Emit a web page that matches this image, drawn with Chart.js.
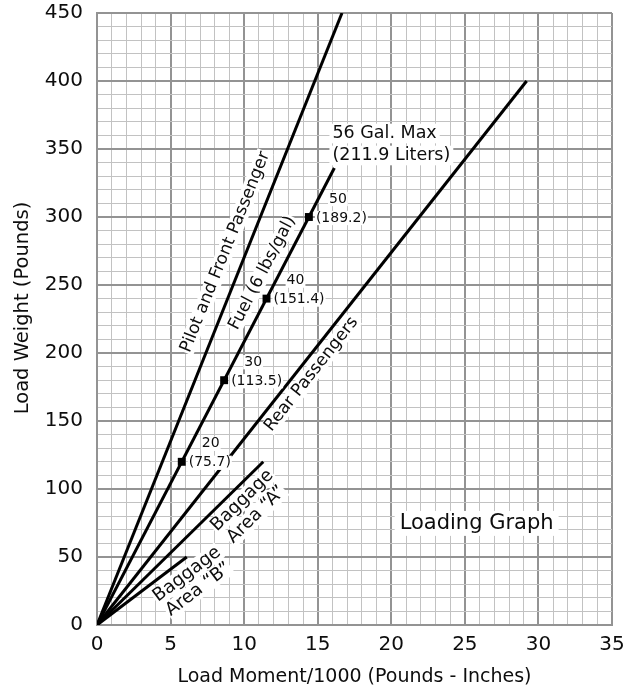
<!DOCTYPE html>
<html><head><meta charset="utf-8">
<script src="https://cdn.jsdelivr.net/npm/chart.js@4.4.1/dist/chart.umd.min.js"></script>
<style>html,body{margin:0;padding:0;background:#fff}#wrap{width:640px;height:689px;position:relative}</style>
</head><body><div id="wrap"><canvas id="c"></canvas></div>
<script>
// ---- Data ----
const seriesNames = ['Pilot and Front Passenger', 'Fuel (6 lbs/gal)', 'Rear Passengers', 'Baggage Area “A”', 'Baggage Area “B”'];
const pilotMoment = [0, 16.65];
const pilotWeight = [0, 450];
const fuelMoment = [0, 16.13];
const fuelWeight = [0, 336];
const rearMoment = [0, 29.2];
const rearWeight = [0, 400];
const baggageAMoment = [0, 11.3];
const baggageAWeight = [0, 120];
const baggageBMoment = [0, 6.1];
const baggageBWeight = [0, 50];
const fuelGallons = ['20', '30', '40', '50'];
const fuelLiters = ['(75.7)', '(113.5)', '(151.4)', '(189.2)'];
const fuelMarkWeight = [120, 180, 240, 300];
const fuelMarkMoment = [5.76, 8.64, 11.52, 14.4];
const fuelMaxNote = ['56 Gal. Max', '(211.9 Liters)'];
const chartTitle = 'Loading Graph';
const xTickLabels = ['0', '5', '10', '15', '20', '25', '30', '35'];
const yTickLabels = ['0', '50', '100', '150', '200', '250', '300', '350', '400', '450'];
const xAxisTitle = 'Load Moment/1000 (Pounds - Inches)';
const yAxisTitle = 'Load Weight (Pounds)';

// ---- Build ----
const pts = (xs, ys) => xs.map((x, i) => ({x, y: ys[i]}));
const lineSets = [
  pts(pilotMoment, pilotWeight),
  pts(fuelMoment, fuelWeight),
  pts(rearMoment, rearWeight),
  pts(baggageAMoment, baggageAWeight),
  pts(baggageBMoment, baggageBWeight)
];
const INK = '#0d0d0d';
const MAJOR = '#939393';
const MINOR = '#c2c2c2';
const FONT = 'DejaVu Sans';

const datasets = lineSets.map((d, i) => ({
  label: seriesNames[i], data: d, showLine: true, borderColor: '#000', borderWidth: 3,
  pointRadius: 0, tension: 0, fill: false
}));
datasets.push({
  label: 'Fuel marks', data: pts(fuelMarkMoment, fuelMarkWeight), showLine: false,
  pointStyle: 'rect', pointRadius: 5.6, backgroundColor: '#000', borderWidth: 0
});

// label placement (layout, not data)
const lineLabels = [
  {series: 0, lines: [seriesNames[0]], at: [8.72, 274.3], size: 17},
  {series: 1, lines: ['Fuel (6 lbs/gal)'], at: [11.24, 258.8], size: 17},
  {series: 2, lines: ['Rear Passengers'], at: [14.57, 184.4], size: 17},
  {series: 3, lines: ['Baggage', 'Area “A”'], at: [10.35, 86.3], size: 18, gap: 20},
  {series: 4, lines: ['Baggage', 'Area “B”'], at: [6.51, 31.7], size: 18, gap: 19}
];

function textWithBg(ctx, txt, x, y, align, pad) {
  const w = ctx.measureText(txt).width;
  const h = parseFloat(ctx.font) * 0.95;
  let lx = align === 'left' ? x : x - w / 2;
  ctx.fillStyle = '#fff';
  ctx.fillRect(lx - pad, y - h / 2 - pad * 0.5, w + pad * 2, h + pad);
  ctx.fillStyle = INK;
  ctx.textAlign = align;
  ctx.textBaseline = 'middle';
  ctx.fillText(txt, x, y);
}

const annot = {
  id: 'annot',
  afterDatasetsDraw(chart) {
    const {ctx, chartArea, scales: {x: sx, y: sy}} = chart;
    ctx.save();
    lineLabels.forEach(l => {
      const d = lineSets[l.series];
      const p0x = sx.getPixelForValue(d[0].x), p0y = sy.getPixelForValue(d[0].y);
      const p1x = sx.getPixelForValue(d[1].x), p1y = sy.getPixelForValue(d[1].y);
      const ang = Math.atan2(p1y - p0y, p1x - p0x);
      const cx = sx.getPixelForValue(l.at[0]), cy = sy.getPixelForValue(l.at[1]);
      ctx.save();
      ctx.translate(cx, cy);
      ctx.rotate(ang);
      ctx.font = l.size + 'px "' + FONT + '"';
      const n = l.lines.length, gap = l.gap || 0;
      l.lines.forEach((t, i) => textWithBg(ctx, t, 0, (i - (n - 1) / 2) * gap, 'center', 1));
      ctx.restore();
    });
    ctx.font = '14px "' + FONT + '"';
    fuelMarkMoment.forEach((m, i) => {
      const px = sx.getPixelForValue(m), py = sy.getPixelForValue(fuelMarkWeight[i]);
      textWithBg(ctx, fuelGallons[i], px + 29, py - 18, 'center', 1);
      textWithBg(ctx, fuelLiters[i], px + 7, py + 1, 'left', 1);
    });
    ctx.font = '17.5px "' + FONT + '"';
    const nx = sx.getPixelForValue(16.0), ny = sy.getPixelForValue(361.4);
    fuelMaxNote.forEach((t, i) => textWithBg(ctx, t, nx, ny + i * 22, 'left', 3));
    ctx.font = '21px "' + FONT + '"';
    textWithBg(ctx, chartTitle, sx.getPixelForValue(25.8), sy.getPixelForValue(74.7), 'center', 5);
    // y axis title
    ctx.save();
    ctx.translate(23, (chartArea.top + chartArea.bottom) / 2 - 11);
    ctx.rotate(-Math.PI / 2);
    ctx.font = '19.5px "' + FONT + '"';
    ctx.fillStyle = INK;
    ctx.textAlign = 'center';
    ctx.textBaseline = 'middle';
    ctx.fillText(yAxisTitle, 0, 0);
    ctx.restore();
    ctx.restore();
  }
};

const isMajorX = v => xTickLabels.includes(String(v));
const isMajorY = v => yTickLabels.includes(String(v));

new Chart(document.getElementById('c'), {
  type: 'scatter',
  data: {datasets},
  options: {
    responsive: true, maintainAspectRatio: false, animation: false, events: [],
    layout: {padding: {top: 13, right: 28, left: 0, bottom: 0}},
    plugins: {legend: {display: false}, tooltip: {enabled: false}},
    scales: {
      x: {
        type: 'linear', min: 0, max: 35,
        ticks: {stepSize: 1, autoSkip: false, maxRotation: 0, padding: 8, color: INK,
          font: {family: FONT, size: 20},
          callback: v => isMajorX(v) ? String(v) : ''},
        grid: {drawTicks: false,
          color: c => (c.tick && isMajorX(c.tick.value)) ? MAJOR : MINOR,
          lineWidth: c => (c.tick && isMajorX(c.tick.value)) ? 2 : 1},
        border: {color: MAJOR, width: 2},
        title: {display: true, text: xAxisTitle, color: INK, font: {family: FONT, size: 19}, padding: {top: 0, bottom: 1}},
        afterFit: s => { s.height = 64; }
      },
      y: {
        type: 'linear', min: 0, max: 450,
        ticks: {stepSize: 10, autoSkip: false, padding: 14, color: INK,
          font: {family: FONT, size: 20},
          callback: v => isMajorY(v) ? String(v) : ''},
        grid: {drawTicks: false,
          color: c => (c.tick && isMajorY(c.tick.value)) ? MAJOR : MINOR,
          lineWidth: c => (c.tick && isMajorY(c.tick.value)) ? 2 : 1},
        border: {color: MAJOR, width: 2},
        title: {display: false, text: yAxisTitle},
        afterFit: s => { s.width = 97; s.paddingTop = 0; s.paddingBottom = 0; }
      }
    }
  },
  plugins: [annot]
});
</script>
</body></html>
